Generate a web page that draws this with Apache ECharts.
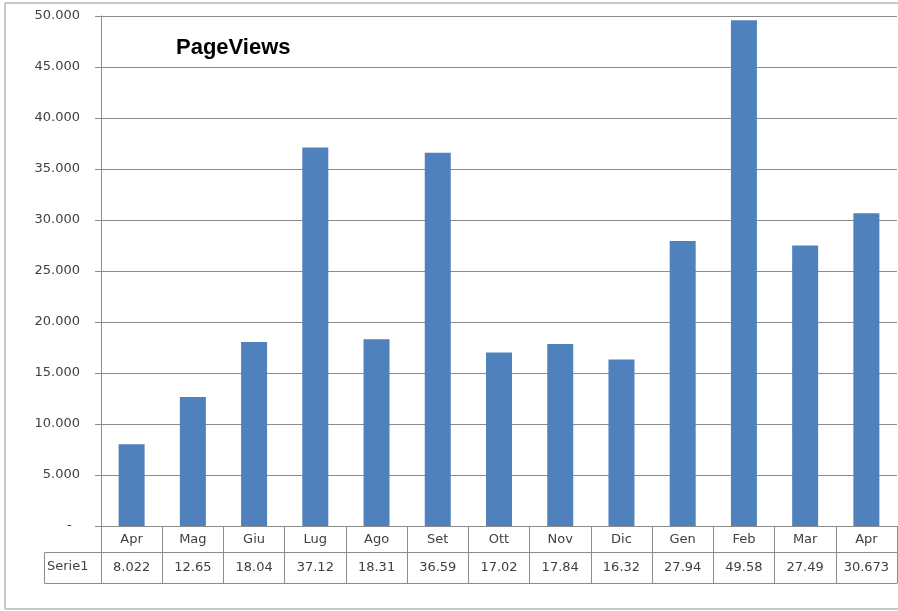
<!DOCTYPE html>
<html>
<head>
<meta charset="utf-8">
<script src="https://cdn.jsdelivr.net/npm/echarts@6/dist/echarts.min.js"></script>
<style>
  html, body { margin: 0; padding: 0; background: #fff; }
  #chart { width: 898px; height: 611px; }
</style>
</head>
<body>
<div id="chart"></div>
<script>
  // dati
  var months = ['Apr', 'Mag', 'Giu', 'Lug', 'Ago', 'Set', 'Ott', 'Nov', 'Dic', 'Gen', 'Feb', 'Mar', 'Apr'];
  var pageViews = [8022, 12650, 18040, 37120, 18310, 36590, 17020, 17840, 16320, 27940, 49580, 27490, 30673];
  // come appaiono nella tabella dati
  var tableLabels = ['8.022', '12.65', '18.04', '37.12', '18.31', '36.59', '17.02', '17.84', '16.32', '27.94', '49.58', '27.49', '30.673'];
  var seriesName = 'Serie1';

  var lineColor = '#8c8c8c';
  var textColor = '#404040';
  var font = 'DejaVu Sans';
  var fs = 13;

  function fmt(v) {
    if (v === 0) return '-  ';
    return String(v).replace(/\B(?=(\d{3})+(?!\d))/g, '.');
  }

  var myChart = echarts.init(document.getElementById('chart'));

  myChart.setOption({
    animation: false,
    textStyle: { fontFamily: font },
    grid: { left: 101, right: 1, top: 16, bottom: 85 },
    graphic: [
      // cornice
      { type: 'line', shape: { x1: 5, y1: 3, x2: 898, y2: 3 }, style: { stroke: '#c8c8c8', lineWidth: 2 } },
      { type: 'line', shape: { x1: 5, y1: 3, x2: 5, y2: 609 }, style: { stroke: '#c8c8c8', lineWidth: 2 } },
      { type: 'line', shape: { x1: 5, y1: 609, x2: 898, y2: 609 }, style: { stroke: '#c8c8c8', lineWidth: 2 } },
      // cella Serie1
      { type: 'rect', shape: { x: 44.5, y: 552.5, width: 57, height: 31 }, style: { fill: 'none', stroke: lineColor, lineWidth: 1 } },
      { type: 'text', left: 47, top: 560, style: { text: seriesName, fontSize: fs, fontFamily: font, fill: textColor } },
      { type: 'text', left: 176, top: 37, style: { text: 'PageViews', fontSize: 22, fontWeight: 'bold', fontFamily: 'Liberation Sans', fill: '#000' } }
    ],
    xAxis: [
      {
        type: 'category',
        data: months,
        position: 'bottom',
        axisLine: { lineStyle: { color: lineColor } },
        axisTick: { show: true, interval: 0, length: 57, lineStyle: { color: lineColor } },
        axisLabel: { interval: 0, margin: 7, fontSize: fs, color: textColor }
      },
      {
        type: 'category',
        data: months,
        position: 'bottom',
        offset: 26,
        axisLine: { lineStyle: { color: lineColor } },
        axisTick: { show: false },
        axisLabel: {
          interval: 0, margin: 9, fontSize: fs, color: textColor,
          formatter: function (v, i) { return tableLabels[i]; }
        }
      },
      {
        type: 'category',
        data: months,
        position: 'bottom',
        offset: 57,
        axisLine: { lineStyle: { color: lineColor } },
        axisTick: { show: false },
        axisLabel: { show: false }
      }
    ],
    yAxis: {
      type: 'value',
      min: 0,
      max: 50000,
      interval: 5000,
      axisLine: { show: true, lineStyle: { color: lineColor } },
      axisTick: { show: true, length: 6, lineStyle: { color: lineColor } },
      axisLabel: { margin: 21, fontSize: fs, color: textColor, formatter: fmt },
      splitLine: { lineStyle: { color: lineColor } }
    },
    series: [
      {
        name: seriesName,
        type: 'bar',
        xAxisIndex: 0,
        barWidth: 26,
        itemStyle: { color: '#4f81bd' },
        data: pageViews
      }
    ]
  });
</script>
</body>
</html>
